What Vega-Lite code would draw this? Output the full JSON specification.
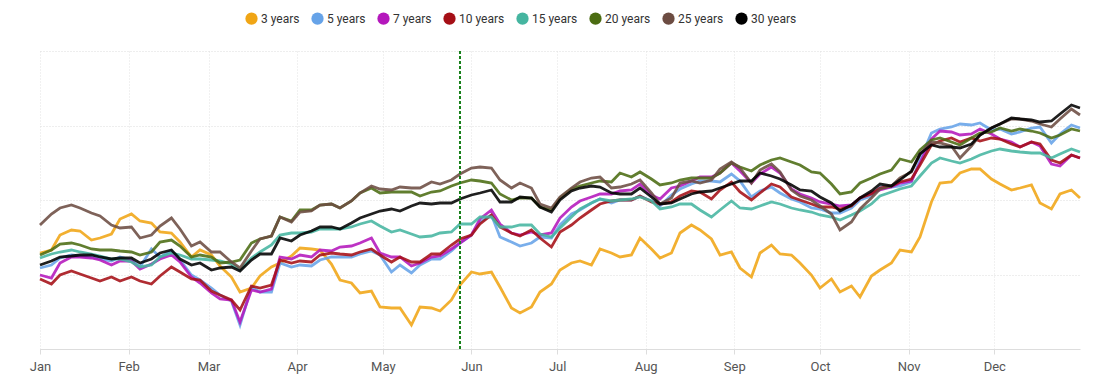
{
"$schema": "https://vega.github.io/schema/vega-lite/v6.json",
"width": 1040, "height": 298,
"autosize": {"type": "none"},
"padding": {"left": 40, "top": 51, "right": 16, "bottom": 38},
"background": "white",
"config": {"view": {"stroke": null}, "font": "Roboto"},
"layer": [
{
"data": {"values": [
{"d":"2023-01-01","s":"3 years","v":96},{"d":"2023-01-05","s":"3 years","v":99},{"d":"2023-01-08","s":"3 years","v":114},{"d":"2023-01-12","s":"3 years","v":119},{"d":"2023-01-15","s":"3 years","v":118},{"d":"2023-01-19","s":"3 years","v":109},{"d":"2023-01-22","s":"3 years","v":111},{"d":"2023-01-26","s":"3 years","v":115},{"d":"2023-01-29","s":"3 years","v":130},{"d":"2023-02-02","s":"3 years","v":135},
{"d":"2023-02-05","s":"3 years","v":128},{"d":"2023-02-09","s":"3 years","v":126},{"d":"2023-02-12","s":"3 years","v":117},{"d":"2023-02-16","s":"3 years","v":116},{"d":"2023-02-19","s":"3 years","v":107},{"d":"2023-02-23","s":"3 years","v":92},{"d":"2023-02-26","s":"3 years","v":99},{"d":"2023-03-02","s":"3 years","v":94},{"d":"2023-03-05","s":"3 years","v":83},{"d":"2023-03-09","s":"3 years","v":72},
{"d":"2023-03-12","s":"3 years","v":57},{"d":"2023-03-16","s":"3 years","v":61},{"d":"2023-03-19","s":"3 years","v":73},{"d":"2023-03-23","s":"3 years","v":82},{"d":"2023-03-26","s":"3 years","v":86},{"d":"2023-03-30","s":"3 years","v":93},{"d":"2023-04-02","s":"3 years","v":101},{"d":"2023-04-06","s":"3 years","v":100},{"d":"2023-04-09","s":"3 years","v":99},{"d":"2023-04-13","s":"3 years","v":85},
{"d":"2023-04-16","s":"3 years","v":69},{"d":"2023-04-20","s":"3 years","v":66},{"d":"2023-04-23","s":"3 years","v":56},{"d":"2023-04-27","s":"3 years","v":58},{"d":"2023-04-30","s":"3 years","v":42},{"d":"2023-05-04","s":"3 years","v":41},{"d":"2023-05-07","s":"3 years","v":41},{"d":"2023-05-11","s":"3 years","v":24},{"d":"2023-05-14","s":"3 years","v":42},{"d":"2023-05-18","s":"3 years","v":41},
{"d":"2023-05-21","s":"3 years","v":38},{"d":"2023-05-25","s":"3 years","v":49},{"d":"2023-05-28","s":"3 years","v":64},{"d":"2023-06-01","s":"3 years","v":77},{"d":"2023-06-04","s":"3 years","v":75},{"d":"2023-06-08","s":"3 years","v":77},{"d":"2023-06-11","s":"3 years","v":62},{"d":"2023-06-15","s":"3 years","v":41},{"d":"2023-06-18","s":"3 years","v":36},{"d":"2023-06-22","s":"3 years","v":42},
{"d":"2023-06-25","s":"3 years","v":57},{"d":"2023-06-29","s":"3 years","v":65},{"d":"2023-07-02","s":"3 years","v":79},{"d":"2023-07-06","s":"3 years","v":86},{"d":"2023-07-09","s":"3 years","v":88},{"d":"2023-07-13","s":"3 years","v":84},{"d":"2023-07-16","s":"3 years","v":100},{"d":"2023-07-20","s":"3 years","v":96},{"d":"2023-07-23","s":"3 years","v":92},{"d":"2023-07-27","s":"3 years","v":94},
{"d":"2023-07-30","s":"3 years","v":111},{"d":"2023-08-03","s":"3 years","v":100},{"d":"2023-08-06","s":"3 years","v":91},{"d":"2023-08-10","s":"3 years","v":96},{"d":"2023-08-13","s":"3 years","v":116},{"d":"2023-08-17","s":"3 years","v":124},{"d":"2023-08-20","s":"3 years","v":119},{"d":"2023-08-24","s":"3 years","v":110},{"d":"2023-08-27","s":"3 years","v":94},{"d":"2023-08-31","s":"3 years","v":97},
{"d":"2023-09-03","s":"3 years","v":81},{"d":"2023-09-07","s":"3 years","v":72},{"d":"2023-09-10","s":"3 years","v":96},{"d":"2023-09-14","s":"3 years","v":104},{"d":"2023-09-17","s":"3 years","v":95},{"d":"2023-09-21","s":"3 years","v":94},{"d":"2023-09-24","s":"3 years","v":86},{"d":"2023-09-28","s":"3 years","v":74},{"d":"2023-10-01","s":"3 years","v":61},{"d":"2023-10-05","s":"3 years","v":70},
{"d":"2023-10-08","s":"3 years","v":57},{"d":"2023-10-12","s":"3 years","v":63},{"d":"2023-10-15","s":"3 years","v":52},{"d":"2023-10-19","s":"3 years","v":73},{"d":"2023-10-22","s":"3 years","v":79},{"d":"2023-10-26","s":"3 years","v":86},{"d":"2023-10-29","s":"3 years","v":99},{"d":"2023-11-02","s":"3 years","v":97},{"d":"2023-11-05","s":"3 years","v":112},{"d":"2023-11-09","s":"3 years","v":147},
{"d":"2023-11-12","s":"3 years","v":166},{"d":"2023-11-16","s":"3 years","v":167},{"d":"2023-11-19","s":"3 years","v":176},{"d":"2023-11-23","s":"3 years","v":180},{"d":"2023-11-26","s":"3 years","v":180},{"d":"2023-11-30","s":"3 years","v":170},{"d":"2023-12-03","s":"3 years","v":165},{"d":"2023-12-07","s":"3 years","v":159},{"d":"2023-12-10","s":"3 years","v":161},{"d":"2023-12-14","s":"3 years","v":164},
{"d":"2023-12-17","s":"3 years","v":146},{"d":"2023-12-21","s":"3 years","v":140},{"d":"2023-12-24","s":"3 years","v":155},{"d":"2023-12-28","s":"3 years","v":159},{"d":"2023-12-31","s":"3 years","v":151},

{"d":"2023-01-01","s":"5 years","v":81},{"d":"2023-01-05","s":"5 years","v":84},{"d":"2023-01-08","s":"5 years","v":91},{"d":"2023-01-12","s":"5 years","v":94},{"d":"2023-01-15","s":"5 years","v":93},{"d":"2023-01-19","s":"5 years","v":92},{"d":"2023-01-22","s":"5 years","v":90},{"d":"2023-01-26","s":"5 years","v":88},{"d":"2023-01-29","s":"5 years","v":92},{"d":"2023-02-02","s":"5 years","v":89},
{"d":"2023-02-05","s":"5 years","v":82},{"d":"2023-02-09","s":"5 years","v":100},{"d":"2023-02-12","s":"5 years","v":92},{"d":"2023-02-16","s":"5 years","v":98},{"d":"2023-02-19","s":"5 years","v":89},{"d":"2023-02-23","s":"5 years","v":74},{"d":"2023-02-26","s":"5 years","v":69},{"d":"2023-03-02","s":"5 years","v":61},{"d":"2023-03-05","s":"5 years","v":54},{"d":"2023-03-09","s":"5 years","v":48},
{"d":"2023-03-12","s":"5 years","v":24},{"d":"2023-03-16","s":"5 years","v":62},{"d":"2023-03-19","s":"5 years","v":57},{"d":"2023-03-23","s":"5 years","v":57},{"d":"2023-03-26","s":"5 years","v":86},{"d":"2023-03-30","s":"5 years","v":82},{"d":"2023-04-02","s":"5 years","v":84},{"d":"2023-04-06","s":"5 years","v":83},{"d":"2023-04-09","s":"5 years","v":89},{"d":"2023-04-13","s":"5 years","v":92},
{"d":"2023-04-16","s":"5 years","v":92},{"d":"2023-04-20","s":"5 years","v":92},{"d":"2023-04-23","s":"5 years","v":95},{"d":"2023-04-27","s":"5 years","v":98},{"d":"2023-04-30","s":"5 years","v":94},{"d":"2023-05-04","s":"5 years","v":77},{"d":"2023-05-07","s":"5 years","v":84},{"d":"2023-05-11","s":"5 years","v":76},{"d":"2023-05-14","s":"5 years","v":84},{"d":"2023-05-18","s":"5 years","v":90},
{"d":"2023-05-21","s":"5 years","v":90},{"d":"2023-05-25","s":"5 years","v":98},{"d":"2023-05-28","s":"5 years","v":106},{"d":"2023-06-01","s":"5 years","v":114},{"d":"2023-06-04","s":"5 years","v":127},{"d":"2023-06-08","s":"5 years","v":134},{"d":"2023-06-11","s":"5 years","v":112},{"d":"2023-06-15","s":"5 years","v":107},{"d":"2023-06-18","s":"5 years","v":103},{"d":"2023-06-22","s":"5 years","v":106},
{"d":"2023-06-25","s":"5 years","v":112},{"d":"2023-06-29","s":"5 years","v":111},{"d":"2023-07-02","s":"5 years","v":124},{"d":"2023-07-06","s":"5 years","v":135},{"d":"2023-07-09","s":"5 years","v":139},{"d":"2023-07-13","s":"5 years","v":146},{"d":"2023-07-16","s":"5 years","v":150},{"d":"2023-07-20","s":"5 years","v":146},{"d":"2023-07-23","s":"5 years","v":149},{"d":"2023-07-27","s":"5 years","v":149},
{"d":"2023-07-30","s":"5 years","v":153},{"d":"2023-08-03","s":"5 years","v":148},{"d":"2023-08-06","s":"5 years","v":143},{"d":"2023-08-10","s":"5 years","v":154},{"d":"2023-08-13","s":"5 years","v":160},{"d":"2023-08-17","s":"5 years","v":165},{"d":"2023-08-20","s":"5 years","v":168},{"d":"2023-08-24","s":"5 years","v":168},{"d":"2023-08-27","s":"5 years","v":167},{"d":"2023-08-31","s":"5 years","v":175},
{"d":"2023-09-03","s":"5 years","v":168},{"d":"2023-09-07","s":"5 years","v":152},{"d":"2023-09-10","s":"5 years","v":158},{"d":"2023-09-14","s":"5 years","v":162},{"d":"2023-09-17","s":"5 years","v":156},{"d":"2023-09-21","s":"5 years","v":150},{"d":"2023-09-24","s":"5 years","v":147},{"d":"2023-09-28","s":"5 years","v":141},{"d":"2023-10-01","s":"5 years","v":140},{"d":"2023-10-05","s":"5 years","v":136},
{"d":"2023-10-08","s":"5 years","v":136},{"d":"2023-10-12","s":"5 years","v":141},{"d":"2023-10-15","s":"5 years","v":149},{"d":"2023-10-19","s":"5 years","v":153},{"d":"2023-10-22","s":"5 years","v":162},{"d":"2023-10-26","s":"5 years","v":162},{"d":"2023-10-29","s":"5 years","v":163},{"d":"2023-11-02","s":"5 years","v":167},{"d":"2023-11-05","s":"5 years","v":189},{"d":"2023-11-09","s":"5 years","v":216},
{"d":"2023-11-12","s":"5 years","v":220},{"d":"2023-11-16","s":"5 years","v":222},{"d":"2023-11-19","s":"5 years","v":225},{"d":"2023-11-23","s":"5 years","v":224},{"d":"2023-11-26","s":"5 years","v":226},{"d":"2023-11-30","s":"5 years","v":219},{"d":"2023-12-03","s":"5 years","v":220},{"d":"2023-12-07","s":"5 years","v":215},{"d":"2023-12-10","s":"5 years","v":217},{"d":"2023-12-14","s":"5 years","v":221},
{"d":"2023-12-17","s":"5 years","v":222},{"d":"2023-12-21","s":"5 years","v":206},{"d":"2023-12-24","s":"5 years","v":215},{"d":"2023-12-28","s":"5 years","v":224},{"d":"2023-12-31","s":"5 years","v":221},

{"d":"2023-01-01","s":"7 years","v":74},{"d":"2023-01-05","s":"7 years","v":71},{"d":"2023-01-08","s":"7 years","v":86},{"d":"2023-01-12","s":"7 years","v":92},{"d":"2023-01-15","s":"7 years","v":92},{"d":"2023-01-19","s":"7 years","v":91},{"d":"2023-01-22","s":"7 years","v":89},{"d":"2023-01-26","s":"7 years","v":84},{"d":"2023-01-29","s":"7 years","v":88},{"d":"2023-02-02","s":"7 years","v":88},
{"d":"2023-02-05","s":"7 years","v":80},{"d":"2023-02-09","s":"7 years","v":85},{"d":"2023-02-12","s":"7 years","v":90},{"d":"2023-02-16","s":"7 years","v":94},{"d":"2023-02-19","s":"7 years","v":87},{"d":"2023-02-23","s":"7 years","v":72},{"d":"2023-02-26","s":"7 years","v":66},{"d":"2023-03-02","s":"7 years","v":56},{"d":"2023-03-05","s":"7 years","v":50},{"d":"2023-03-09","s":"7 years","v":49},
{"d":"2023-03-12","s":"7 years","v":27},{"d":"2023-03-16","s":"7 years","v":59},{"d":"2023-03-19","s":"7 years","v":57},{"d":"2023-03-23","s":"7 years","v":60},{"d":"2023-03-26","s":"7 years","v":92},{"d":"2023-03-30","s":"7 years","v":90},{"d":"2023-04-02","s":"7 years","v":94},{"d":"2023-04-06","s":"7 years","v":92},{"d":"2023-04-09","s":"7 years","v":99},{"d":"2023-04-13","s":"7 years","v":98},
{"d":"2023-04-16","s":"7 years","v":102},{"d":"2023-04-20","s":"7 years","v":103},{"d":"2023-04-23","s":"7 years","v":106},{"d":"2023-04-27","s":"7 years","v":111},{"d":"2023-04-30","s":"7 years","v":96},{"d":"2023-05-04","s":"7 years","v":92},{"d":"2023-05-07","s":"7 years","v":92},{"d":"2023-05-11","s":"7 years","v":83},{"d":"2023-05-14","s":"7 years","v":86},{"d":"2023-05-18","s":"7 years","v":92},
{"d":"2023-05-21","s":"7 years","v":93},{"d":"2023-05-25","s":"7 years","v":100},{"d":"2023-05-28","s":"7 years","v":106},{"d":"2023-06-01","s":"7 years","v":114},{"d":"2023-06-04","s":"7 years","v":130},{"d":"2023-06-08","s":"7 years","v":139},{"d":"2023-06-11","s":"7 years","v":125},{"d":"2023-06-15","s":"7 years","v":116},{"d":"2023-06-18","s":"7 years","v":114},{"d":"2023-06-22","s":"7 years","v":117},
{"d":"2023-06-25","s":"7 years","v":114},{"d":"2023-06-29","s":"7 years","v":116},{"d":"2023-07-02","s":"7 years","v":131},{"d":"2023-07-06","s":"7 years","v":142},{"d":"2023-07-09","s":"7 years","v":148},{"d":"2023-07-13","s":"7 years","v":152},{"d":"2023-07-16","s":"7 years","v":155},{"d":"2023-07-20","s":"7 years","v":155},{"d":"2023-07-23","s":"7 years","v":158},{"d":"2023-07-27","s":"7 years","v":159},
{"d":"2023-07-30","s":"7 years","v":165},{"d":"2023-08-03","s":"7 years","v":154},{"d":"2023-08-06","s":"7 years","v":150},{"d":"2023-08-10","s":"7 years","v":161},{"d":"2023-08-13","s":"7 years","v":163},{"d":"2023-08-17","s":"7 years","v":168},{"d":"2023-08-20","s":"7 years","v":172},{"d":"2023-08-24","s":"7 years","v":172},{"d":"2023-08-27","s":"7 years","v":176},{"d":"2023-08-31","s":"7 years","v":186},
{"d":"2023-09-03","s":"7 years","v":178},{"d":"2023-09-07","s":"7 years","v":166},{"d":"2023-09-10","s":"7 years","v":175},{"d":"2023-09-14","s":"7 years","v":182},{"d":"2023-09-17","s":"7 years","v":176},{"d":"2023-09-21","s":"7 years","v":160},{"d":"2023-09-24","s":"7 years","v":155},{"d":"2023-09-28","s":"7 years","v":151},{"d":"2023-10-01","s":"7 years","v":147},{"d":"2023-10-05","s":"7 years","v":145},
{"d":"2023-10-08","s":"7 years","v":143},{"d":"2023-10-12","s":"7 years","v":144},{"d":"2023-10-15","s":"7 years","v":151},{"d":"2023-10-19","s":"7 years","v":156},{"d":"2023-10-22","s":"7 years","v":159},{"d":"2023-10-26","s":"7 years","v":162},{"d":"2023-10-29","s":"7 years","v":166},{"d":"2023-11-02","s":"7 years","v":168},{"d":"2023-11-05","s":"7 years","v":186},{"d":"2023-11-09","s":"7 years","v":210},
{"d":"2023-11-12","s":"7 years","v":218},{"d":"2023-11-16","s":"7 years","v":217},{"d":"2023-11-19","s":"7 years","v":214},{"d":"2023-11-23","s":"7 years","v":215},{"d":"2023-11-26","s":"7 years","v":220},{"d":"2023-11-30","s":"7 years","v":215},{"d":"2023-12-03","s":"7 years","v":210},{"d":"2023-12-07","s":"7 years","v":207},{"d":"2023-12-10","s":"7 years","v":202},{"d":"2023-12-14","s":"7 years","v":207},
{"d":"2023-12-17","s":"7 years","v":203},{"d":"2023-12-21","s":"7 years","v":185},{"d":"2023-12-24","s":"7 years","v":183},{"d":"2023-12-28","s":"7 years","v":194},{"d":"2023-12-31","s":"7 years","v":191},

{"d":"2023-01-01","s":"10 years","v":70},{"d":"2023-01-05","s":"10 years","v":65},{"d":"2023-01-08","s":"10 years","v":74},{"d":"2023-01-12","s":"10 years","v":78},{"d":"2023-01-15","s":"10 years","v":75},{"d":"2023-01-19","s":"10 years","v":71},{"d":"2023-01-22","s":"10 years","v":68},{"d":"2023-01-26","s":"10 years","v":72},{"d":"2023-01-29","s":"10 years","v":68},{"d":"2023-02-02","s":"10 years","v":72},
{"d":"2023-02-05","s":"10 years","v":68},{"d":"2023-02-09","s":"10 years","v":65},{"d":"2023-02-12","s":"10 years","v":73},{"d":"2023-02-16","s":"10 years","v":82},{"d":"2023-02-19","s":"10 years","v":77},{"d":"2023-02-23","s":"10 years","v":70},{"d":"2023-02-26","s":"10 years","v":69},{"d":"2023-03-02","s":"10 years","v":58},{"d":"2023-03-05","s":"10 years","v":54},{"d":"2023-03-09","s":"10 years","v":49},
{"d":"2023-03-12","s":"10 years","v":39},{"d":"2023-03-16","s":"10 years","v":63},{"d":"2023-03-19","s":"10 years","v":61},{"d":"2023-03-23","s":"10 years","v":64},{"d":"2023-03-26","s":"10 years","v":89},{"d":"2023-03-30","s":"10 years","v":86},{"d":"2023-04-02","s":"10 years","v":88},{"d":"2023-04-06","s":"10 years","v":87},{"d":"2023-04-09","s":"10 years","v":94},{"d":"2023-04-13","s":"10 years","v":96},
{"d":"2023-04-16","s":"10 years","v":95},{"d":"2023-04-20","s":"10 years","v":94},{"d":"2023-04-23","s":"10 years","v":97},{"d":"2023-04-27","s":"10 years","v":100},{"d":"2023-04-30","s":"10 years","v":94},{"d":"2023-05-04","s":"10 years","v":87},{"d":"2023-05-07","s":"10 years","v":92},{"d":"2023-05-11","s":"10 years","v":87},{"d":"2023-05-14","s":"10 years","v":87},{"d":"2023-05-18","s":"10 years","v":95},
{"d":"2023-05-21","s":"10 years","v":95},{"d":"2023-05-25","s":"10 years","v":104},{"d":"2023-05-28","s":"10 years","v":110},{"d":"2023-06-01","s":"10 years","v":114},{"d":"2023-06-04","s":"10 years","v":125},{"d":"2023-06-08","s":"10 years","v":134},{"d":"2023-06-11","s":"10 years","v":122},{"d":"2023-06-15","s":"10 years","v":116},{"d":"2023-06-18","s":"10 years","v":113},{"d":"2023-06-22","s":"10 years","v":119},
{"d":"2023-06-25","s":"10 years","v":111},{"d":"2023-06-29","s":"10 years","v":102},{"d":"2023-07-02","s":"10 years","v":117},{"d":"2023-07-06","s":"10 years","v":124},{"d":"2023-07-09","s":"10 years","v":131},{"d":"2023-07-13","s":"10 years","v":139},{"d":"2023-07-16","s":"10 years","v":145},{"d":"2023-07-20","s":"10 years","v":148},{"d":"2023-07-23","s":"10 years","v":149},{"d":"2023-07-27","s":"10 years","v":149},
{"d":"2023-07-30","s":"10 years","v":153},{"d":"2023-08-03","s":"10 years","v":147},{"d":"2023-08-06","s":"10 years","v":145},{"d":"2023-08-10","s":"10 years","v":147},{"d":"2023-08-13","s":"10 years","v":153},{"d":"2023-08-17","s":"10 years","v":158},{"d":"2023-08-20","s":"10 years","v":157},{"d":"2023-08-24","s":"10 years","v":150},{"d":"2023-08-27","s":"10 years","v":159},{"d":"2023-08-31","s":"10 years","v":167},
{"d":"2023-09-03","s":"10 years","v":157},{"d":"2023-09-07","s":"10 years","v":149},{"d":"2023-09-10","s":"10 years","v":156},{"d":"2023-09-14","s":"10 years","v":165},{"d":"2023-09-17","s":"10 years","v":162},{"d":"2023-09-21","s":"10 years","v":152},{"d":"2023-09-24","s":"10 years","v":149},{"d":"2023-09-28","s":"10 years","v":145},{"d":"2023-10-01","s":"10 years","v":142},{"d":"2023-10-05","s":"10 years","v":142},
{"d":"2023-10-08","s":"10 years","v":140},{"d":"2023-10-12","s":"10 years","v":143},{"d":"2023-10-15","s":"10 years","v":151},{"d":"2023-10-19","s":"10 years","v":155},{"d":"2023-10-22","s":"10 years","v":161},{"d":"2023-10-26","s":"10 years","v":163},{"d":"2023-10-29","s":"10 years","v":167},{"d":"2023-11-02","s":"10 years","v":170},{"d":"2023-11-05","s":"10 years","v":184},{"d":"2023-11-09","s":"10 years","v":204},
{"d":"2023-11-12","s":"10 years","v":208},{"d":"2023-11-16","s":"10 years","v":211},{"d":"2023-11-19","s":"10 years","v":207},{"d":"2023-11-23","s":"10 years","v":211},{"d":"2023-11-26","s":"10 years","v":208},{"d":"2023-11-30","s":"10 years","v":211},{"d":"2023-12-03","s":"10 years","v":210},{"d":"2023-12-07","s":"10 years","v":205},{"d":"2023-12-10","s":"10 years","v":202},{"d":"2023-12-14","s":"10 years","v":207},
{"d":"2023-12-17","s":"10 years","v":205},{"d":"2023-12-21","s":"10 years","v":189},{"d":"2023-12-24","s":"10 years","v":186},{"d":"2023-12-28","s":"10 years","v":194},{"d":"2023-12-31","s":"10 years","v":191},

{"d":"2023-01-01","s":"15 years","v":91},{"d":"2023-01-05","s":"15 years","v":95},{"d":"2023-01-08","s":"15 years","v":97},{"d":"2023-01-12","s":"15 years","v":99},{"d":"2023-01-15","s":"15 years","v":97},{"d":"2023-01-19","s":"15 years","v":95},{"d":"2023-01-22","s":"15 years","v":93},{"d":"2023-01-26","s":"15 years","v":90},{"d":"2023-01-29","s":"15 years","v":90},{"d":"2023-02-02","s":"15 years","v":87},
{"d":"2023-02-05","s":"15 years","v":82},{"d":"2023-02-09","s":"15 years","v":84},{"d":"2023-02-12","s":"15 years","v":92},{"d":"2023-02-16","s":"15 years","v":96},{"d":"2023-02-19","s":"15 years","v":94},{"d":"2023-02-23","s":"15 years","v":90},{"d":"2023-02-26","s":"15 years","v":90},{"d":"2023-03-02","s":"15 years","v":89},{"d":"2023-03-05","s":"15 years","v":88},{"d":"2023-03-09","s":"15 years","v":85},
{"d":"2023-03-12","s":"15 years","v":79},{"d":"2023-03-16","s":"15 years","v":91},{"d":"2023-03-19","s":"15 years","v":97},{"d":"2023-03-23","s":"15 years","v":104},{"d":"2023-03-26","s":"15 years","v":114},{"d":"2023-03-30","s":"15 years","v":116},{"d":"2023-04-02","s":"15 years","v":116},{"d":"2023-04-06","s":"15 years","v":117},{"d":"2023-04-09","s":"15 years","v":120},{"d":"2023-04-13","s":"15 years","v":120},
{"d":"2023-04-16","s":"15 years","v":120},{"d":"2023-04-20","s":"15 years","v":122},{"d":"2023-04-23","s":"15 years","v":125},{"d":"2023-04-27","s":"15 years","v":128},{"d":"2023-04-30","s":"15 years","v":123},{"d":"2023-05-04","s":"15 years","v":117},{"d":"2023-05-07","s":"15 years","v":119},{"d":"2023-05-11","s":"15 years","v":115},{"d":"2023-05-14","s":"15 years","v":112},{"d":"2023-05-18","s":"15 years","v":113},
{"d":"2023-05-21","s":"15 years","v":116},{"d":"2023-05-25","s":"15 years","v":117},{"d":"2023-05-28","s":"15 years","v":125},{"d":"2023-06-01","s":"15 years","v":125},{"d":"2023-06-04","s":"15 years","v":132},{"d":"2023-06-08","s":"15 years","v":132},{"d":"2023-06-11","s":"15 years","v":122},{"d":"2023-06-15","s":"15 years","v":122},{"d":"2023-06-18","s":"15 years","v":124},{"d":"2023-06-22","s":"15 years","v":124},
{"d":"2023-06-25","s":"15 years","v":115},{"d":"2023-06-29","s":"15 years","v":112},{"d":"2023-07-02","s":"15 years","v":121},{"d":"2023-07-06","s":"15 years","v":132},{"d":"2023-07-09","s":"15 years","v":140},{"d":"2023-07-13","s":"15 years","v":146},{"d":"2023-07-16","s":"15 years","v":150},{"d":"2023-07-20","s":"15 years","v":148},{"d":"2023-07-23","s":"15 years","v":149},{"d":"2023-07-27","s":"15 years","v":150},
{"d":"2023-07-30","s":"15 years","v":152},{"d":"2023-08-03","s":"15 years","v":148},{"d":"2023-08-06","s":"15 years","v":140},{"d":"2023-08-10","s":"15 years","v":142},{"d":"2023-08-13","s":"15 years","v":145},{"d":"2023-08-17","s":"15 years","v":145},{"d":"2023-08-20","s":"15 years","v":139},{"d":"2023-08-24","s":"15 years","v":132},{"d":"2023-08-27","s":"15 years","v":139},{"d":"2023-08-31","s":"15 years","v":148},
{"d":"2023-09-03","s":"15 years","v":141},{"d":"2023-09-07","s":"15 years","v":140},{"d":"2023-09-10","s":"15 years","v":143},{"d":"2023-09-14","s":"15 years","v":147},{"d":"2023-09-17","s":"15 years","v":145},{"d":"2023-09-21","s":"15 years","v":141},{"d":"2023-09-24","s":"15 years","v":139},{"d":"2023-09-28","s":"15 years","v":137},{"d":"2023-10-01","s":"15 years","v":134},{"d":"2023-10-05","s":"15 years","v":132},
{"d":"2023-10-08","s":"15 years","v":129},{"d":"2023-10-12","s":"15 years","v":134},{"d":"2023-10-15","s":"15 years","v":138},{"d":"2023-10-19","s":"15 years","v":145},{"d":"2023-10-22","s":"15 years","v":153},{"d":"2023-10-26","s":"15 years","v":157},{"d":"2023-10-29","s":"15 years","v":160},{"d":"2023-11-02","s":"15 years","v":163},{"d":"2023-11-05","s":"15 years","v":173},{"d":"2023-11-09","s":"15 years","v":186},
{"d":"2023-11-12","s":"15 years","v":191},{"d":"2023-11-16","s":"15 years","v":188},{"d":"2023-11-19","s":"15 years","v":186},{"d":"2023-11-23","s":"15 years","v":190},{"d":"2023-11-26","s":"15 years","v":194},{"d":"2023-11-30","s":"15 years","v":198},{"d":"2023-12-03","s":"15 years","v":200},{"d":"2023-12-07","s":"15 years","v":198},{"d":"2023-12-10","s":"15 years","v":197},{"d":"2023-12-14","s":"15 years","v":196},
{"d":"2023-12-17","s":"15 years","v":196},{"d":"2023-12-21","s":"15 years","v":191},{"d":"2023-12-24","s":"15 years","v":195},{"d":"2023-12-28","s":"15 years","v":200},{"d":"2023-12-31","s":"15 years","v":197},

{"d":"2023-01-01","s":"20 years","v":94},{"d":"2023-01-05","s":"20 years","v":99},{"d":"2023-01-08","s":"20 years","v":105},{"d":"2023-01-12","s":"20 years","v":106},{"d":"2023-01-15","s":"20 years","v":104},{"d":"2023-01-19","s":"20 years","v":100},{"d":"2023-01-22","s":"20 years","v":99},{"d":"2023-01-26","s":"20 years","v":99},{"d":"2023-01-29","s":"20 years","v":98},{"d":"2023-02-02","s":"20 years","v":97},
{"d":"2023-02-05","s":"20 years","v":94},{"d":"2023-02-09","s":"20 years","v":97},{"d":"2023-02-12","s":"20 years","v":107},{"d":"2023-02-16","s":"20 years","v":109},{"d":"2023-02-19","s":"20 years","v":103},{"d":"2023-02-23","s":"20 years","v":92},{"d":"2023-02-26","s":"20 years","v":94},{"d":"2023-03-02","s":"20 years","v":92},{"d":"2023-03-05","s":"20 years","v":86},{"d":"2023-03-09","s":"20 years","v":87},
{"d":"2023-03-12","s":"20 years","v":89},{"d":"2023-03-16","s":"20 years","v":106},{"d":"2023-03-19","s":"20 years","v":110},{"d":"2023-03-23","s":"20 years","v":113},{"d":"2023-03-26","s":"20 years","v":132},{"d":"2023-03-30","s":"20 years","v":128},{"d":"2023-04-02","s":"20 years","v":139},{"d":"2023-04-06","s":"20 years","v":139},{"d":"2023-04-09","s":"20 years","v":144},{"d":"2023-04-13","s":"20 years","v":145},
{"d":"2023-04-16","s":"20 years","v":141},{"d":"2023-04-20","s":"20 years","v":148},{"d":"2023-04-23","s":"20 years","v":156},{"d":"2023-04-27","s":"20 years","v":161},{"d":"2023-04-30","s":"20 years","v":156},{"d":"2023-05-04","s":"20 years","v":157},{"d":"2023-05-07","s":"20 years","v":157},{"d":"2023-05-11","s":"20 years","v":157},{"d":"2023-05-14","s":"20 years","v":153},{"d":"2023-05-18","s":"20 years","v":157},
{"d":"2023-05-21","s":"20 years","v":158},{"d":"2023-05-25","s":"20 years","v":163},{"d":"2023-05-28","s":"20 years","v":166},{"d":"2023-06-01","s":"20 years","v":169},{"d":"2023-06-04","s":"20 years","v":168},{"d":"2023-06-08","s":"20 years","v":166},{"d":"2023-06-11","s":"20 years","v":155},{"d":"2023-06-15","s":"20 years","v":149},{"d":"2023-06-18","s":"20 years","v":151},{"d":"2023-06-22","s":"20 years","v":151},
{"d":"2023-06-25","s":"20 years","v":142},{"d":"2023-06-29","s":"20 years","v":139},{"d":"2023-07-02","s":"20 years","v":151},{"d":"2023-07-06","s":"20 years","v":160},{"d":"2023-07-09","s":"20 years","v":163},{"d":"2023-07-13","s":"20 years","v":166},{"d":"2023-07-16","s":"20 years","v":168},{"d":"2023-07-20","s":"20 years","v":167},{"d":"2023-07-23","s":"20 years","v":176},{"d":"2023-07-27","s":"20 years","v":172},
{"d":"2023-07-30","s":"20 years","v":177},{"d":"2023-08-03","s":"20 years","v":170},{"d":"2023-08-06","s":"20 years","v":164},{"d":"2023-08-10","s":"20 years","v":166},{"d":"2023-08-13","s":"20 years","v":169},{"d":"2023-08-17","s":"20 years","v":171},{"d":"2023-08-20","s":"20 years","v":171},{"d":"2023-08-24","s":"20 years","v":171},{"d":"2023-08-27","s":"20 years","v":176},{"d":"2023-08-31","s":"20 years","v":186},
{"d":"2023-09-03","s":"20 years","v":182},{"d":"2023-09-07","s":"20 years","v":178},{"d":"2023-09-10","s":"20 years","v":184},{"d":"2023-09-14","s":"20 years","v":189},{"d":"2023-09-17","s":"20 years","v":191},{"d":"2023-09-21","s":"20 years","v":187},{"d":"2023-09-24","s":"20 years","v":184},{"d":"2023-09-28","s":"20 years","v":177},{"d":"2023-10-01","s":"20 years","v":176},{"d":"2023-10-05","s":"20 years","v":165},
{"d":"2023-10-08","s":"20 years","v":155},{"d":"2023-10-12","s":"20 years","v":157},{"d":"2023-10-15","s":"20 years","v":166},{"d":"2023-10-19","s":"20 years","v":171},{"d":"2023-10-22","s":"20 years","v":175},{"d":"2023-10-26","s":"20 years","v":179},{"d":"2023-10-29","s":"20 years","v":190},{"d":"2023-11-02","s":"20 years","v":187},{"d":"2023-11-05","s":"20 years","v":199},{"d":"2023-11-09","s":"20 years","v":209},
{"d":"2023-11-12","s":"20 years","v":211},{"d":"2023-11-16","s":"20 years","v":207},{"d":"2023-11-19","s":"20 years","v":204},{"d":"2023-11-23","s":"20 years","v":211},{"d":"2023-11-26","s":"20 years","v":216},{"d":"2023-11-30","s":"20 years","v":217},{"d":"2023-12-03","s":"20 years","v":221},{"d":"2023-12-07","s":"20 years","v":218},{"d":"2023-12-10","s":"20 years","v":220},{"d":"2023-12-14","s":"20 years","v":218},
{"d":"2023-12-17","s":"20 years","v":216},{"d":"2023-12-21","s":"20 years","v":211},{"d":"2023-12-24","s":"20 years","v":214},{"d":"2023-12-28","s":"20 years","v":220},{"d":"2023-12-31","s":"20 years","v":218},

{"d":"2023-01-01","s":"25 years","v":124},{"d":"2023-01-05","s":"25 years","v":135},{"d":"2023-01-08","s":"25 years","v":141},{"d":"2023-01-12","s":"25 years","v":144},{"d":"2023-01-15","s":"25 years","v":141},{"d":"2023-01-19","s":"25 years","v":136},{"d":"2023-01-22","s":"25 years","v":133},{"d":"2023-01-26","s":"25 years","v":124},{"d":"2023-01-29","s":"25 years","v":121},{"d":"2023-02-02","s":"25 years","v":122},
{"d":"2023-02-05","s":"25 years","v":111},{"d":"2023-02-09","s":"25 years","v":114},{"d":"2023-02-12","s":"25 years","v":123},{"d":"2023-02-16","s":"25 years","v":131},{"d":"2023-02-19","s":"25 years","v":120},{"d":"2023-02-23","s":"25 years","v":103},{"d":"2023-02-26","s":"25 years","v":107},{"d":"2023-03-02","s":"25 years","v":97},{"d":"2023-03-05","s":"25 years","v":97},{"d":"2023-03-09","s":"25 years","v":87},
{"d":"2023-03-12","s":"25 years","v":81},{"d":"2023-03-16","s":"25 years","v":98},{"d":"2023-03-19","s":"25 years","v":110},{"d":"2023-03-23","s":"25 years","v":113},{"d":"2023-03-26","s":"25 years","v":132},{"d":"2023-03-30","s":"25 years","v":127},{"d":"2023-04-02","s":"25 years","v":137},{"d":"2023-04-06","s":"25 years","v":138},{"d":"2023-04-09","s":"25 years","v":144},{"d":"2023-04-13","s":"25 years","v":145},
{"d":"2023-04-16","s":"25 years","v":141},{"d":"2023-04-20","s":"25 years","v":148},{"d":"2023-04-23","s":"25 years","v":156},{"d":"2023-04-27","s":"25 years","v":163},{"d":"2023-04-30","s":"25 years","v":160},{"d":"2023-05-04","s":"25 years","v":159},{"d":"2023-05-07","s":"25 years","v":162},{"d":"2023-05-11","s":"25 years","v":161},{"d":"2023-05-14","s":"25 years","v":161},{"d":"2023-05-18","s":"25 years","v":167},
{"d":"2023-05-21","s":"25 years","v":165},{"d":"2023-05-25","s":"25 years","v":169},{"d":"2023-05-28","s":"25 years","v":175},{"d":"2023-06-01","s":"25 years","v":181},{"d":"2023-06-04","s":"25 years","v":182},{"d":"2023-06-08","s":"25 years","v":181},{"d":"2023-06-11","s":"25 years","v":169},{"d":"2023-06-15","s":"25 years","v":161},{"d":"2023-06-18","s":"25 years","v":166},{"d":"2023-06-22","s":"25 years","v":161},
{"d":"2023-06-25","s":"25 years","v":145},{"d":"2023-06-29","s":"25 years","v":141},{"d":"2023-07-02","s":"25 years","v":152},{"d":"2023-07-06","s":"25 years","v":161},{"d":"2023-07-09","s":"25 years","v":167},{"d":"2023-07-13","s":"25 years","v":171},{"d":"2023-07-16","s":"25 years","v":172},{"d":"2023-07-20","s":"25 years","v":161},{"d":"2023-07-23","s":"25 years","v":162},{"d":"2023-07-27","s":"25 years","v":165},
{"d":"2023-07-30","s":"25 years","v":169},{"d":"2023-08-03","s":"25 years","v":156},{"d":"2023-08-06","s":"25 years","v":145},{"d":"2023-08-10","s":"25 years","v":151},{"d":"2023-08-13","s":"25 years","v":166},{"d":"2023-08-17","s":"25 years","v":168},{"d":"2023-08-20","s":"25 years","v":166},{"d":"2023-08-24","s":"25 years","v":169},{"d":"2023-08-27","s":"25 years","v":180},{"d":"2023-08-31","s":"25 years","v":187},
{"d":"2023-09-03","s":"25 years","v":181},{"d":"2023-09-07","s":"25 years","v":166},{"d":"2023-09-10","s":"25 years","v":179},{"d":"2023-09-14","s":"25 years","v":185},{"d":"2023-09-17","s":"25 years","v":177},{"d":"2023-09-21","s":"25 years","v":159},{"d":"2023-09-24","s":"25 years","v":153},{"d":"2023-09-28","s":"25 years","v":149},{"d":"2023-10-01","s":"25 years","v":143},{"d":"2023-10-05","s":"25 years","v":135},
{"d":"2023-10-08","s":"25 years","v":119},{"d":"2023-10-12","s":"25 years","v":127},{"d":"2023-10-15","s":"25 years","v":140},{"d":"2023-10-19","s":"25 years","v":151},{"d":"2023-10-22","s":"25 years","v":160},{"d":"2023-10-26","s":"25 years","v":163},{"d":"2023-10-29","s":"25 years","v":171},{"d":"2023-11-02","s":"25 years","v":177},{"d":"2023-11-05","s":"25 years","v":195},{"d":"2023-11-09","s":"25 years","v":207},
{"d":"2023-11-12","s":"25 years","v":206},{"d":"2023-11-16","s":"25 years","v":203},{"d":"2023-11-19","s":"25 years","v":191},{"d":"2023-11-23","s":"25 years","v":203},{"d":"2023-11-26","s":"25 years","v":214},{"d":"2023-11-30","s":"25 years","v":221},{"d":"2023-12-03","s":"25 years","v":225},{"d":"2023-12-07","s":"25 years","v":230},{"d":"2023-12-10","s":"25 years","v":230},{"d":"2023-12-14","s":"25 years","v":228},
{"d":"2023-12-17","s":"25 years","v":225},{"d":"2023-12-21","s":"25 years","v":222},{"d":"2023-12-24","s":"25 years","v":230},{"d":"2023-12-28","s":"25 years","v":240},{"d":"2023-12-31","s":"25 years","v":234},

{"d":"2023-01-01","s":"30 years","v":84},{"d":"2023-01-05","s":"30 years","v":88},{"d":"2023-01-08","s":"30 years","v":92},{"d":"2023-01-12","s":"30 years","v":93},{"d":"2023-01-15","s":"30 years","v":94},{"d":"2023-01-19","s":"30 years","v":94},{"d":"2023-01-22","s":"30 years","v":92},{"d":"2023-01-26","s":"30 years","v":90},{"d":"2023-01-29","s":"30 years","v":91},{"d":"2023-02-02","s":"30 years","v":91},
{"d":"2023-02-05","s":"30 years","v":86},{"d":"2023-02-09","s":"30 years","v":90},{"d":"2023-02-12","s":"30 years","v":96},{"d":"2023-02-16","s":"30 years","v":99},{"d":"2023-02-19","s":"30 years","v":90},{"d":"2023-02-23","s":"30 years","v":84},{"d":"2023-02-26","s":"30 years","v":86},{"d":"2023-03-02","s":"30 years","v":79},{"d":"2023-03-05","s":"30 years","v":81},{"d":"2023-03-09","s":"30 years","v":82},
{"d":"2023-03-12","s":"30 years","v":78},{"d":"2023-03-16","s":"30 years","v":89},{"d":"2023-03-19","s":"30 years","v":95},{"d":"2023-03-23","s":"30 years","v":95},{"d":"2023-03-26","s":"30 years","v":111},{"d":"2023-03-30","s":"30 years","v":108},{"d":"2023-04-02","s":"30 years","v":114},{"d":"2023-04-06","s":"30 years","v":118},{"d":"2023-04-09","s":"30 years","v":122},{"d":"2023-04-13","s":"30 years","v":122},
{"d":"2023-04-16","s":"30 years","v":120},{"d":"2023-04-20","s":"30 years","v":126},{"d":"2023-04-23","s":"30 years","v":131},{"d":"2023-04-27","s":"30 years","v":135},{"d":"2023-04-30","s":"30 years","v":138},{"d":"2023-05-04","s":"30 years","v":140},{"d":"2023-05-07","s":"30 years","v":138},{"d":"2023-05-11","s":"30 years","v":143},{"d":"2023-05-14","s":"30 years","v":146},{"d":"2023-05-18","s":"30 years","v":145},
{"d":"2023-05-21","s":"30 years","v":146},{"d":"2023-05-25","s":"30 years","v":146},{"d":"2023-05-28","s":"30 years","v":150},{"d":"2023-06-01","s":"30 years","v":154},{"d":"2023-06-04","s":"30 years","v":156},{"d":"2023-06-08","s":"30 years","v":159},{"d":"2023-06-11","s":"30 years","v":147},{"d":"2023-06-15","s":"30 years","v":147},{"d":"2023-06-18","s":"30 years","v":152},{"d":"2023-06-22","s":"30 years","v":151},
{"d":"2023-06-25","s":"30 years","v":142},{"d":"2023-06-29","s":"30 years","v":137},{"d":"2023-07-02","s":"30 years","v":149},{"d":"2023-07-06","s":"30 years","v":158},{"d":"2023-07-09","s":"30 years","v":161},{"d":"2023-07-13","s":"30 years","v":163},{"d":"2023-07-16","s":"30 years","v":162},{"d":"2023-07-20","s":"30 years","v":156},{"d":"2023-07-23","s":"30 years","v":155},{"d":"2023-07-27","s":"30 years","v":155},
{"d":"2023-07-30","s":"30 years","v":161},{"d":"2023-08-03","s":"30 years","v":152},{"d":"2023-08-06","s":"30 years","v":145},{"d":"2023-08-10","s":"30 years","v":146},{"d":"2023-08-13","s":"30 years","v":150},{"d":"2023-08-17","s":"30 years","v":155},{"d":"2023-08-20","s":"30 years","v":157},{"d":"2023-08-24","s":"30 years","v":158},{"d":"2023-08-27","s":"30 years","v":161},{"d":"2023-08-31","s":"30 years","v":165},
{"d":"2023-09-03","s":"30 years","v":168},{"d":"2023-09-07","s":"30 years","v":168},{"d":"2023-09-10","s":"30 years","v":176},{"d":"2023-09-14","s":"30 years","v":173},{"d":"2023-09-17","s":"30 years","v":170},{"d":"2023-09-21","s":"30 years","v":164},{"d":"2023-09-24","s":"30 years","v":159},{"d":"2023-09-28","s":"30 years","v":158},{"d":"2023-10-01","s":"30 years","v":152},{"d":"2023-10-05","s":"30 years","v":146},
{"d":"2023-10-08","s":"30 years","v":138},{"d":"2023-10-12","s":"30 years","v":144},{"d":"2023-10-15","s":"30 years","v":151},{"d":"2023-10-19","s":"30 years","v":158},{"d":"2023-10-22","s":"30 years","v":165},{"d":"2023-10-26","s":"30 years","v":163},{"d":"2023-10-29","s":"30 years","v":169},{"d":"2023-11-02","s":"30 years","v":178},{"d":"2023-11-05","s":"30 years","v":195},{"d":"2023-11-09","s":"30 years","v":204},
{"d":"2023-11-12","s":"30 years","v":202},{"d":"2023-11-16","s":"30 years","v":202},{"d":"2023-11-19","s":"30 years","v":201},{"d":"2023-11-23","s":"30 years","v":205},{"d":"2023-11-26","s":"30 years","v":214},{"d":"2023-11-30","s":"30 years","v":221},{"d":"2023-12-03","s":"30 years","v":225},{"d":"2023-12-07","s":"30 years","v":231},{"d":"2023-12-10","s":"30 years","v":230},{"d":"2023-12-14","s":"30 years","v":229},
{"d":"2023-12-17","s":"30 years","v":227},{"d":"2023-12-21","s":"30 years","v":228},{"d":"2023-12-24","s":"30 years","v":235},{"d":"2023-12-28","s":"30 years","v":244},{"d":"2023-12-31","s":"30 years","v":241}
]},
"mark": {"type": "line", "strokeWidth": 2.8, "opacity": 0.88},
"encoding": {
"x": {"field": "d", "type": "temporal",
"scale": {"type": "utc", "domain": [{"year": 2023, "month": 1, "date": 1, "utc": true}, {"year": 2023, "month": 12, "date": 31, "utc": true}]},
"axis": {"title": null, "format": "%b", "tickCount": {"interval": "month", "step": 1}, "labelFont": "Roboto", "labelFontSize": 13, "labelColor": "#555", "labelPadding": 6, "tickSize": 5, "tickColor": "#ddd", "domainColor": "#ddd", "gridColor": "#e2e2e2", "gridDash": [1, 2], "labelFlush": false, "labelOverlap": false}},
"y": {"field": "v", "type": "quantitative",
"scale": {"domain": [0, 298], "nice": false, "zero": false},
"axis": {"title": null, "labels": false, "ticks": false, "domain": false, "values": [0, 74.5, 149, 223.5, 298], "gridColor": "#dcdcdc", "gridDash": [1, 2]}},
"color": {"field": "s", "type": "nominal",
"scale": {"domain": ["3 years", "5 years", "7 years", "10 years", "15 years", "20 years", "25 years", "30 years"],
"range": ["#F0A515", "#66A3E8", "#B417BC", "#A50F16", "#45B5A0", "#4B6C12", "#6C4C42", "#000000"]},
"legend": {"title": null, "orient": "none", "legendX": 205, "legendY": -39, "direction": "horizontal", "symbolType": "circle", "symbolSize": 150, "symbolOpacity": 1, "labelFont": "Roboto", "labelFontSize": 12, "labelColor": "#333", "labelOffset": 3, "columnPadding": 11,
"encode": {"symbols": {"update": {"fill": {"scale": "color", "field": "value"}, "strokeWidth": {"value": 0}, "opacity": {"value": 1}}}}}}
}
},
{
"data": {"values": [{"d": "2023-05-28"}]},
"mark": {"type": "rule", "color": "#17801a", "strokeDash": [3, 2], "strokeWidth": 2},
"encoding": {"x": {"field": "d", "type": "temporal"}}
}
]
}
